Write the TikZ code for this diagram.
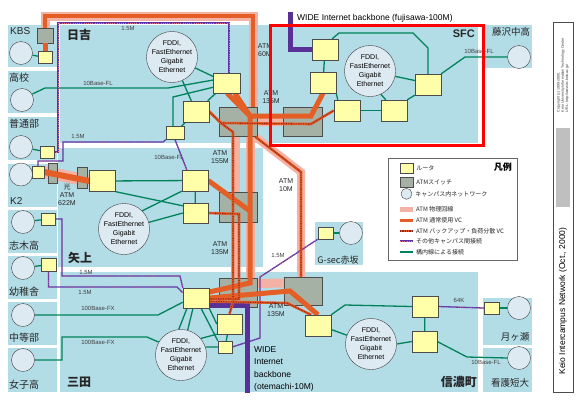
\documentclass[tikz,border=0pt]{standalone}
\usepackage{fontspec}
\setmainfont{Liberation Sans}
\newfontfamily\jp{Noto Sans CJK JP}
\usepackage{tikz}
\usetikzlibrary{positioning,calc}

\definecolor{campusblue}{RGB}{178,220,230}
\definecolor{routeryellow}{RGB}{255,255,170}
\definecolor{swgray}{RGB}{165,177,165}
\definecolor{netblue}{RGB}{222,234,242}
\definecolor{atmpink}{RGB}{244,178,164}
\definecolor{vcorange}{RGB}{228,94,38}
\definecolor{dotred}{RGB}{150,30,20}
\definecolor{otherpurple}{RGB}{95,50,165}
\definecolor{otherpink}{RGB}{240,120,140}
\definecolor{langreen}{RGB}{0,130,90}
\definecolor{widepurple}{RGB}{88,48,150}

\pgfdeclarelayer{campus}
\pgfdeclarelayer{physical}
\pgfdeclarelayer{switches}
\pgfdeclarelayer{links}
\pgfsetlayers{campus,physical,switches,links,main}

\begin{document}
\begin{tikzpicture}[
    x=1pt, y=-1pt,
    campus/.style={fill=campusblue, draw=none},
    router/.style={draw=black!70, fill=routeryellow, inner sep=0pt,
                   minimum width=26pt, minimum height=21pt},
    srouter/.style={router, minimum width=14pt, minimum height=12pt},
    atmsw/.style={draw=black!70, fill=swgray, inner sep=0pt,
                  minimum width=38pt, minimum height=29pt},
    net/.style={circle, draw=black!75, fill=netblue, inner sep=0pt, minimum size=#1},
    net/.default=23pt,
    fddi/.style={net=50pt, align=center, font=\fontsize{7}{9}\selectfont},
    phys/.style={draw=atmpink, line width=9pt},
    vc/.style={draw=vcorange, line width=5pt},
    bkp/.style={draw=vcorange, line width=2.6pt,
                postaction={draw=dotred, line width=1.1pt, dash pattern=on 0.8pt off 0.9pt}},
    other/.style={draw=otherpurple, line width=1.3pt,
                  postaction={draw=otherpink, line width=0.5pt, dash pattern=on 0.6pt off 1.6pt}},
    lan/.style={draw=langreen, line width=1.3pt},
    wide/.style={draw=widepurple, line width=5pt},
    lbl/.style={font=\fontsize{6}{7}\selectfont, text=black!75, inner sep=0pt},
    atmlbl/.style={font=\fontsize{7}{8}\selectfont, text=black!85, align=center, inner sep=0pt},
    site/.style={font=\jp\fontsize{10}{11}\selectfont, text=black!85, inner sep=0pt},
    campuslbl/.style={font=\jp\bfseries\fontsize{12}{13}\selectfont, text=black!85, inner sep=0pt},
    lgtext/.style={font=\jp\fontsize{6}{7}\selectfont, text=black!85, inner sep=0pt, anchor=west},
  ]
  \useasboundingbox (0,0) rectangle (580,400);

  % Hiyoshi
  \node[fddi] (hfddi) at (172,57) {FDDI,\\FastEthernet\\Gigabit\\Ethernet};
  \node[router, minimum width=27pt, minimum height=20pt] (h1) at (227,83) {};
  \node[router] (h2) at (196,111.5) {};
  \node[router, minimum width=18pt, minimum height=13pt] (h3) at (175,133) {};

  % small sites on the left
  \node[net] (kbsn)  at (21,53) {};
  \node[srouter] (kbsr) at (45,57.5) {};
  \node[net] (kokon) at (22,100) {};
  \node[net] (futn)  at (21,147) {};
  \node[srouter] (futr) at (47,152) {};
  \node[net] (k2n)   at (21,174.5) {};
  \node[srouter, minimum width=12pt] (k2r) at (38,172) {};
  \node[net] (shikn) at (23,222) {};
  \node[srouter] (shikr) at (48,219) {};
  \node[net] (yochn) at (23,268) {};
  \node[srouter, minimum width=15pt, minimum height=13pt] (yochr) at (48.5,264.5) {};
  \node[net] (chun)  at (23,315) {};
  \node[net] (joshn) at (23,360) {};

  % Yagami
  \node[router] (y1) at (195,180.5) {};
  \node[router, minimum width=25pt, minimum height=20pt] (y2) at (195.5,213) {};
  \node[router] (y3) at (102.5,181) {};
  \node[fddi] (yfddi) at (124,229) {FDDI,\\FastEthernet\\Gigabit\\Ethernet};

  % Mita
  \node[router, minimum height=20pt] (m1) at (196,298) {};
  \node[router, minimum width=25pt, minimum height=20pt] (m2) at (229.5,324) {};
  \node[srouter] (m3) at (225,347) {};
  \node[fddi] (mfddi) at (181,355) {FDDI,\\FastEthernet\\Gigabit\\Ethernet};

  % SFC
  \node[router] (s1) at (325,49.5) {};
  \node[router] (s2) at (323,82.5) {};
  \node[router] (s3) at (347,110.5) {};
  \node[router] (s4) at (394,110.5) {};
  \node[router] (s5) at (428,84.5) {};
  \node[fddi] (sfddi) at (370,71) {FDDI,\\FastEthernet\\Gigabit\\Ethernet};
  \node[net] (fujin) at (519,57) {};

  % Shinanomachi
  \node[router] (n1) at (318,325.5) {};
  \node[router] (n2) at (425,306.5) {};
  \node[router, minimum width=25pt] (n3) at (424.5,341.5) {};
  \node[fddi] (nfddi) at (371,344) {FDDI,\\FastEthernet\\Gigabit\\Ethernet};
  \node[srouter, minimum width=15pt] (tsukr) at (491.5,308) {};
  \node[net] (tsukn) at (519,308) {};
  \node[net] (kangn) at (519,358) {};
  \node[srouter, minimum width=15pt] (gsecr) at (325.5,233) {};
  \node[net] (gsecn) at (351,233) {};

  % ATM switches
  \begin{pgfonlayer}{switches}
    \node[atmsw, minimum width=16pt, minimum height=15pt] (swkbs) at (45,35.5) {};
    \node[atmsw] (swh) at (238,122) {};
    \node[atmsw, minimum width=39pt] (sws) at (302.5,121.5) {};
    \node[atmsw, minimum height=30pt] (swy) at (238.5,207) {};
    \node[atmsw] (swm) at (238,292.5) {};
    \node[atmsw, minimum height=28pt] (swn) at (303,291) {};
    \node[atmsw, minimum width=9pt, minimum height=20pt] (swk2a) at (52.5,173) {};
    \node[atmsw, minimum width=10pt, minimum height=21pt] (swk2b) at (82,178) {};
  \end{pgfonlayer}

  \coordinate (loopR) at (253,16);
  \coordinate (tA) at (250,116);
  \coordinate (tB) at (250,211);
  \coordinate (tC) at (250,283);
  \coordinate (sfcA) at (311,116);
  \coordinate (bend10) at (301,172);

  % campus areas
  \begin{pgfonlayer}{campus}
    \fill[campus] (8,25) rectangle (57,67);
    \fill[campus] (8,71) rectangle (57,113);
    \fill[campus] (8,117) rectangle (57,160);
    \fill[campus] (8,164) rectangle (57,207);
    \fill[campus] (8,210) rectangle (57,253);
    \fill[campus] (8,256) rectangle (57,299);
    \fill[campus] (8,302) rectangle (57,345);
    \fill[campus] (8,348) rectangle (57,392);
    \fill[campus] (60,25) rectangle (270,143);
    \fill[campus] (58,148) rectangle (263,267);
    \fill[campus] (60,272) rectangle (478,392);
    \fill[campus] (272,27) rectangle (478,143);
    \fill[campus] (485,25) rectangle (532,68);
    \fill[campus] (315,222) rectangle (363,265);
    \fill[campus] (483,298) rectangle (532,345);
    \fill[campus] (483,348) rectangle (532,392);
  \end{pgfonlayer}

  % ATM physical lines
  \begin{pgfonlayer}{physical}
    \draw[phys] (swkbs.north) |- (loopR) -- (loopR |- swh.north);
    \draw[phys, line width=12pt] (k2r.east) -- (y3.west);
    \draw[phys] (swh.east) -- (sws.west);
    \draw[phys] ($(swh.south)+(-3,0)$) -- ($(swm.north)+(-3,0)$);
    \draw[phys] ($(swh.south)+(12,0)$) -- ($(swm.north)+(12,0)$);
    \draw[phys, line width=8pt] ($(swh.south east)+(-2,0)$) -- (bend10) -- (bend10 |- swn.north);
    \draw[phys] ($(swm.east)+(0,-9)$) -- ($(swn.west)+(0,-8)$);
  \end{pgfonlayer}

  \begin{pgfonlayer}{links}
    % LAN inside campuses
    \draw[lan] (kbsn) -- (kbsr);
    \draw[lan] (futn) -- (futr);
    \draw[lan] (k2n) -- (k2r);
    \draw[lan] (shikn) -- (shikr);
    \draw[lan] (yochn) -- (yochr);
    \draw[lan] (kokon.30) -- (45,88) -- (168,88) -- ($(h1.west)+(0,-3)$);
    \draw[lan] (hfddi) -- (h1);
    \draw[lan] (hfddi) -- (h2);
    \draw[lan] (h1) -- (h2);
    \coordinate (hb) at (173,97);
    \draw[lan] ($(h1.south west)+(0,-6)$) -- (hb) -- (hb |- h3.north);
    \draw[lan] (h2) -- (h3);

    \draw[lan] (y3) -- (y1);
    \draw[lan] (y3.south east) -- ($(y2.north west)+(0,3)$);
    \draw[lan] (yfddi.north east) -- (y1.south west);
    \draw[lan] (yfddi.15) -- (y2.west);
    \draw[lan] (y1) -- (y2);

    \draw[lan] (chun.east) -- (158,315) -- ($(m1.south west)+(0,-6)$);
    \draw[lan] (joshn.east) -- (62,360) -- (62,337) -- (147,337) -- (mfddi.150);
    \draw[lan] ($(m1.south)+(-9,0)$) -- (mfddi.95);
    \draw[lan] ($(m1.south)+(-3,0)$) -- (mfddi.75);
    \draw[lan] ($(m1.south)+(5,0)$) -- (m3.north west);
    \draw[lan] (m1.south east) -- (m2.west);
    \draw[lan] (mfddi.40) -- (m2.south west);
    \draw[lan] (mfddi.18) -- (m3.west);
    \draw[lan] (m2) -- (m3);

    \draw[lan] ($(s1.north east)+(-6,0)$) -- (339,33) -- (413,33) -- (428,48) -- (s5.north);
    \draw[lan] (s1) -- (s2);
    \draw[lan] (s2.south east) -- ($(s3.north west)+(4,0)$);
    \draw[lan] (s3) -- (s4);
    \draw[lan] (s4.north east) -- (s5.south west);
    \draw[lan] (sfddi.-65) -- ($(s4.north west)+(5,0)$);
    \draw[lan] (sfddi.-12) -- ($(s5.west)+(0,-4)$);
    \draw[lan] (s5.north east) -- (465,57) -- (fujin.west);

    \draw[lan] (n1.north east) -- (345,305) -- (n2.west);
    \draw[lan] ($(n1.east)+(0,4)$) -- (nfddi.160);
    \draw[lan] (nfddi.east) -- (n3.west);
    \draw[lan] (n2) -- (n3);
    \draw[lan] (n3.east) -- (467,357) -- (kangn.west);
    \draw[lan] (tsukr) -- (tsukn);
    \draw[lan] (gsecr) -- (gsecn);

    % other intercampus lines
    \coordinate (pA) at (58,23);
    \coordinate (pB) at (229,23);
    \draw[other] (futr.east) -| (pA) -- (pB) -- (pB |- h1.north);
    \coordinate (pC) at (63,161);
    \draw[other] (k2r.north) |- (pC) -- (63,142) -- (163,142) -- (h3.south west);
    \draw[other] (h3.south) -- ($(y1.north west)+(5,0)$);
    \draw[other] (shikr.east) -- (62,219) -- (62,276) -- (180,276) -- (m1.north west);
    \draw[other] (yochr.south) |- (177,287) -- ($(m1.north west)+(0,5)$);
    \draw[other] (gsecr.south west) -- (260,277) -- (260,338) -- (m3.east);
    \draw[other] (n2.east) -- (tsukr.west);

    % WIDE backbone
    \draw[wide] (290,12) |- (s1.west);
    \draw[wide] ($(m1.east)+(0,7.5)$) -| (247,393);

    % ATM VCs
    \draw[vc, line width=4pt] (swkbs.north) |- (loopR) -- (loopR |- swh.north);
    \draw[vc] (swkbs.south) -- (swkbs.south |- kbsr.north);
    \draw[vc, line width=6pt] (k2r.east) -- (y3.west);
    \draw[vc] (h1.south) -- (tA) -- (sfcA) -- (s2.south);
    \draw[vc] ($(h1.south)+(8,0)$) -- (tA) -- (tC) -- ($(m1.east)+(0,-6)$);
    \draw[vc] (y1.east) -- (tB);
    \draw[vc] (m1.east) -- (290,291) -- (n1.north);

    % backup VCs
    \draw[bkp] (h2.east) -- (221,123) -- (311,124) -- (s3.west);
    \draw[bkp] (h2.east) -- (221,123) -- (233,132) -- (233,302) -- (m2.north);
    \draw[bkp] (y2.east) -- (239,214) -- (239,299) -- ($(m1.east)+(0,1)$);
    \draw[bkp] ($(m1.east)+(0,3.5)$) -- (287,303) -- ($(n1.north)+(-7,0)$);
    \draw[bkp] ($(swh.south east)+(-2,0)$) -- (bend10) -- (bend10 |- swn.north);
  \end{pgfonlayer}

  % campus names
  \node[campuslbl, anchor=west] (hiyoshi) at (67,35) {日吉};
  \node[campuslbl, anchor=west] (yagami) at (68,258) {矢上};
  \node[campuslbl, anchor=west] (mita) at (67,382) {三田};
  \node[campuslbl, anchor=east] (shinano) at (477,382) {信濃町};
  \node[font=\bfseries\fontsize{11}{12}\selectfont, text=black!85, anchor=east, inner sep=0pt] (sfc) at (475,34) {SFC};
  \node[site, anchor=west, font=\fontsize{10}{11}\selectfont] (kbs) at (10,31) {KBS};
  \node[site, anchor=west] (koko) at (9,78) {高校};
  \node[site, anchor=west] (futsu) at (9,124) {普通部};
  \node[site, anchor=west, font=\fontsize{10}{11}\selectfont] (k2) at (10,201) {K2};
  \node[site, anchor=west] (shiki) at (9,246) {志木高};
  \node[site, anchor=west] (yochi) at (9,292) {幼稚舎};
  \node[site, anchor=west] (chuto) at (9,338) {中等部};
  \node[site, anchor=west] (joshi) at (9,385) {女子高};
  \node[site, font=\jp\fontsize{9.5}{10}\selectfont] (fuji) at (511,32) {藤沢中高};
  \node[site, font=\jp\fontsize{9}{10}\selectfont] (gsec) at (338,260) {G-sec赤坂};
  \node[site, font=\jp\fontsize{9.5}{10}\selectfont] (tsuki) at (515,337) {月ヶ瀬};
  \node[site, font=\jp\fontsize{9.5}{10}\selectfont] (kango) at (510,383) {看護短大};

  % link labels
  \node[atmlbl] (a60) at (265,50) {ATM\\60M};
  \node[atmlbl] (a135a) at (271,97) {ATM\\135M};
  \node[atmlbl] (a155) at (220,157) {ATM\\155M};
  \node[atmlbl] (a10) at (286,185) {ATM\\10M};
  \node[atmlbl] (a135b) at (220,248) {ATM\\135M};
  \node[atmlbl] (a135c) at (276,310) {ATM\\135M};
  \node[atmlbl] (a622) at (67,195) {{\jp 光}\\ATM\\622M};
  \node[lbl] (r15a) at (128,28) {1.5M};
  \node[lbl] (r15b) at (78,136) {1.5M};
  \node[lbl] (r15c) at (278,255) {1.5M};
  \node[lbl] (r15d) at (86,272) {1.5M};
  \node[lbl] (r15e) at (85,292) {1.5M};
  \node[lbl] (fla) at (98,83) {10Base-FL};
  \node[lbl] (flb) at (169,157) {10Base-FL};
  \node[lbl] (flc) at (479,51) {10Base-FL};
  \node[lbl] (fld) at (486,362) {10Base-FL};
  \node[lbl] (fxa) at (98,308) {100Base-FX};
  \node[lbl] (fxb) at (98,342) {100Base-FX};
  \node[lbl] (k64) at (459,300) {64K};
  \node[font=\fontsize{8.5}{9}\selectfont, anchor=west, inner sep=0pt] (widefj) at (297,18)
    {WIDE Internet backbone (fujisawa-100M)};
  \node[font=\fontsize{8.5}{12.5}\selectfont, anchor=west, align=left, inner sep=0pt] (wideot) at (254,369)
    {WIDE\\Internet\\backbone\\(otemachi-10M)};

  % highlight
  \draw[red, line width=3pt] (270,25) rectangle (483,145);

  % legend
  \node[draw=black!60, fill=white, minimum width=129pt, minimum height=102pt, inner sep=0pt] (legend) at (452.5,209) {};
  \node[font=\jp\bfseries\fontsize{9}{10}\selectfont, anchor=east, inner sep=0pt] (lgtitle) at (512,167) {凡例};
  \node[router, minimum width=13pt, minimum height=10pt] (lgr) at (406.5,168) {};
  \node[atmsw, minimum width=13pt, minimum height=10pt, below=4pt of lgr] (lgsw) {};
  \node[net=11pt, below=0.5pt of lgsw] (lgnet) {};
  \node[lgtext, right=3pt of lgr] (lgtr) {ルータ};
  \node[lgtext, right=3pt of lgsw] (lgtsw) {ATMスイッチ};
  \node[lgtext, right=3pt of lgnet] (lgtnet) {キャンパス内ネットワーク};
  \coordinate (lgA) at (400,209);
  \coordinate (lgB) at (413,209);
  \draw[phys, line width=5pt] (lgA) -- (lgB);
  \draw[vc, line width=3pt] ($(lgA)+(0,11)$) -- ($(lgB)+(0,11)$);
  \draw[bkp] ($(lgA)+(0,22)$) -- ($(lgB)+(0,22)$);
  \draw[other] ($(lgA)+(0,32)$) -- ($(lgB)+(0,32)$);
  \draw[lan] ($(lgA)+(0,43)$) -- ($(lgB)+(0,43)$);
  \node[lgtext] (lgt1) at (416,209) {ATM 物理回線};
  \node[lgtext] (lgt2) at (416,220) {ATM 通常使用 VC};
  \node[lgtext] (lgt3) at (416,231) {ATM バックアップ・負荷分散 VC};
  \node[lgtext] (lgt4) at (416,241) {その他キャンパス間接続};
  \node[lgtext] (lgt5) at (416,252) {構内線による接続};

  % side title
  \node[draw=black!70, line width=0.8pt, minimum width=20pt, minimum height=370pt, inner sep=0pt] (sidebox) at (563,207) {};
  \fill[black!25] (556,128) rectangle (570,207);
  \node[rotate=90, font=\fontsize{3.6}{4.3}\selectfont, align=left, text=black!80] (copyr) at (563,75)
    {Copyright (c) 1999-2000,\\Keio University Information Technology Center\\URL: http://www.itc.keio.ac.jp/};
  \node[rotate=90, font=\fontsize{8.5}{9}\selectfont] (maptitle) at (563,301) {Keio Intercampus Network (Oct., 2000)};
\end{tikzpicture}
\end{document}
